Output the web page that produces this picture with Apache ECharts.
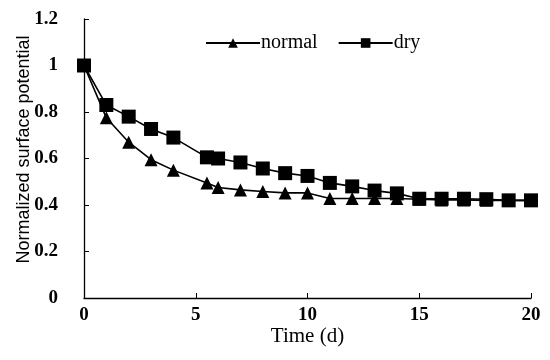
<!DOCTYPE html>
<html>
<head>
<meta charset="utf-8">
<script src="https://cdn.jsdelivr.net/npm/echarts@6/dist/echarts.min.js"></script>
<style>html,body{margin:0;padding:0;background:#fff}#container{width:550px;height:360px}</style>
</head>
<body>
<div id="container"></div>
<script>
// values
let normalT = [0, 1, 2, 3, 4, 5.5, 6, 7, 8, 9, 10, 11, 12, 13, 14, 15, 16, 17, 18, 19, 20];
let normalV = [1, 0.775, 0.67, 0.595, 0.55, 0.495, 0.475, 0.465, 0.458, 0.452, 0.452, 0.428, 0.428, 0.428, 0.428, 0.425, 0.422, 0.422, 0.42, 0.42, 0.42];
let dryT = [0, 1, 2, 3, 4, 5.5, 6, 7, 8, 9, 10, 11, 12, 13, 14, 15, 16, 17, 18, 19, 20];
let dryV = [1, 0.83, 0.78, 0.727, 0.69, 0.605, 0.6, 0.583, 0.557, 0.537, 0.525, 0.495, 0.48, 0.462, 0.45, 0.427, 0.427, 0.427, 0.425, 0.42, 0.42];
let seriesNames = ['normal', 'dry'];

const pair = (xs, ys) => xs.map((x, i) => [x, ys[i]]);
const serif = '"Liberation Serif", "DejaVu Serif", serif';

let chart = echarts.init(document.getElementById('container'));

chart.setOption({
    animation: false,
    backgroundColor: '#fff',
    grid: {left: 84, right: 19, top: 19, bottom: 62, outerBoundsMode: 'none'},
    legend: {
        left: 200,
        top: 28,
        itemWidth: 54,
        itemHeight: 12,
        itemGap: 20,
        textStyle: {fontFamily: serif, fontSize: 20, color: '#000', padding: [0, 0, 0, -4]},
        data: seriesNames
    },
    xAxis: {
        type: 'value',
        min: 0, max: 20, interval: 5,
        name: 'Time (d)',
        nameLocation: 'middle',
        nameGap: 28,
        nameMoveOverlap: false,
        nameTextStyle: {fontFamily: serif, fontSize: 21, color: '#000'},
        axisLine: {lineStyle: {color: '#000', width: 1.3}},
        axisTick: {inside: true, length: 5, lineStyle: {color: '#000'}},
        axisLabel: {fontFamily: serif, fontSize: 19, fontWeight: 'bold', color: '#000', margin: 8},
        splitLine: {show: false}
    },
    yAxis: {
        type: 'value',
        min: 0, max: 1.2, interval: 0.2,
        name: 'Normalized surface potential',
        nameLocation: 'middle',
        nameGap: 51,
        nameMoveOverlap: false,
        nameTextStyle: {fontFamily: '"Liberation Sans Narrow", "Liberation Sans", sans-serif', fontSize: 18, color: '#000', padding: [0, 0, 0, 18]},
        axisLine: {show: true, lineStyle: {color: '#000', width: 1.3}},
        axisTick: {show: true, inside: true, length: 5, lineStyle: {color: '#000'}},
        axisLabel: {fontFamily: serif, fontSize: 19, fontWeight: 'bold', color: '#000', margin: 26},
        splitLine: {show: false}
    },
    series: [{
        name: seriesNames[0],
        type: 'line',
        data: pair(normalT, normalV),
        symbol: 'triangle',
        symbolSize: 13,
        lineStyle: {color: '#000', width: 1.6},
        itemStyle: {color: '#000'}
    }, {
        name: seriesNames[1],
        type: 'line',
        data: pair(dryT, dryV),
        symbol: 'rect',
        symbolSize: 14,
        lineStyle: {color: '#000', width: 1.6},
        itemStyle: {color: '#000'}
    }]
});
</script>
</body>
</html>
